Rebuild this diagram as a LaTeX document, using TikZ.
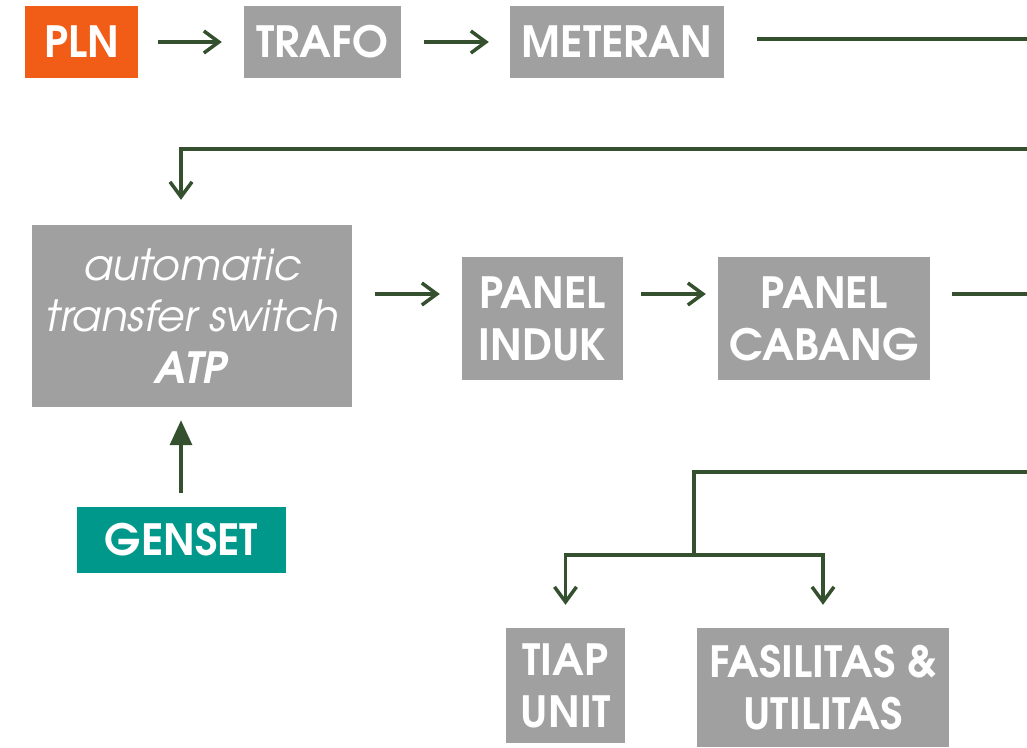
\documentclass[tikz,border=0pt]{standalone}
\usepackage{fontspec}
\setmainfont{TeX Gyre Adventor}
\usetikzlibrary{arrows.meta,calc}
\definecolor{flowline}{RGB}{52,80,46}
\definecolor{boxgrey}{RGB}{160,160,160}
\definecolor{plnorange}{RGB}{241,92,22}
\definecolor{gensetteal}{RGB}{0,152,138}
\begin{document}
\begin{tikzpicture}[x=1pt,y=-1pt,
  box/.style={fill=boxgrey, draw=none, inner sep=0pt, text=white, align=center,
    font=\fontsize{43}{52}\selectfont\bfseries},
  flow/.style={draw=flowline, line width=3.5pt},
  arr/.style={flow, -{Straight Barb[length=15pt,width=22pt,line width=3.5pt]}},
  arrfill/.style={flow, -{Triangle[length=25pt,width=22pt]}}]
\useasboundingbox (0,0) rectangle (1027,747);

% top row
\node[box, fill=plnorange, minimum width=113pt, minimum height=72pt] (pln) at (81.5,42) {PLN};
\node[box, minimum width=157pt, minimum height=72pt] (trafo) at (322.5,42) {TRAFO};
\node[box, minimum width=214pt, minimum height=72pt] (meteran) at (617,42) {METERAN};

% middle row
\node[box, minimum width=320pt, minimum height=182pt, font=\fontsize{43}{51.5}\selectfont] (atp) at (192,316)
  {\textit{automatic}\\\textit{transfer switch}\\\textbf{\textit{ATP}}};
\node[box, minimum width=161pt, minimum height=123pt] (induk) at (542.5,318.5) {PANEL\\INDUK};
\node[box, minimum width=212pt, minimum height=123pt] (cabang) at (824,318.5) {PANEL\\CABANG};
\node[box, fill=gensetteal, minimum width=209pt, minimum height=66pt] (genset) at (181.5,540) {GENSET};

% bottom row
\node[box, minimum width=119pt, minimum height=115pt] (unit) at (565.5,685.5) {TIAP\\UNIT};
\node[box, minimum width=252pt, minimum height=119pt] (fasil) at (823,687.5) {FASILITAS \&\\UTILITAS};

% connector helpers along the right edge and branch points
\coordinate (e1) at (1027,39);
\coordinate (e2) at (1027,149);
\coordinate (e3) at (1027,294);
\coordinate (e4) at (1027,472);
\coordinate (ymid) at (0,294);
\coordinate (atpx) at (181,0);
\coordinate (split) at (694,555);

% connectors
\draw[arr, shorten <=20pt, shorten >=22pt] (pln.east) -- (trafo.west);
\draw[arr, shorten <=23pt, shorten >=21pt] (trafo.east) -- (meteran.west);
\draw[flow, shorten <=33pt] (meteran.east |- e1) -- (e1);
\draw[arr, shorten >=25pt] (e2) -| (atpx |- atp.north);
\draw[arr, shorten <=23pt, shorten >=22pt] (atp.east |- ymid) -- (induk.west |- ymid);
\draw[arr, shorten <=18pt, shorten >=12pt] (induk.east |- ymid) -- (cabang.west |- ymid);
\draw[flow, shorten <=22pt] (cabang.east |- ymid) -- (e3);
\draw[flow] (e4) -| (split);
\draw[arr, shorten >=23pt] (split) -| (unit.north);
\draw[arr, shorten >=23pt] (split) -| (fasil.north);
\draw[arrfill, shorten <=14pt, shorten >=13pt] (atpx |- genset.north) -- (atpx |- atp.south);
\end{tikzpicture}
\end{document}
